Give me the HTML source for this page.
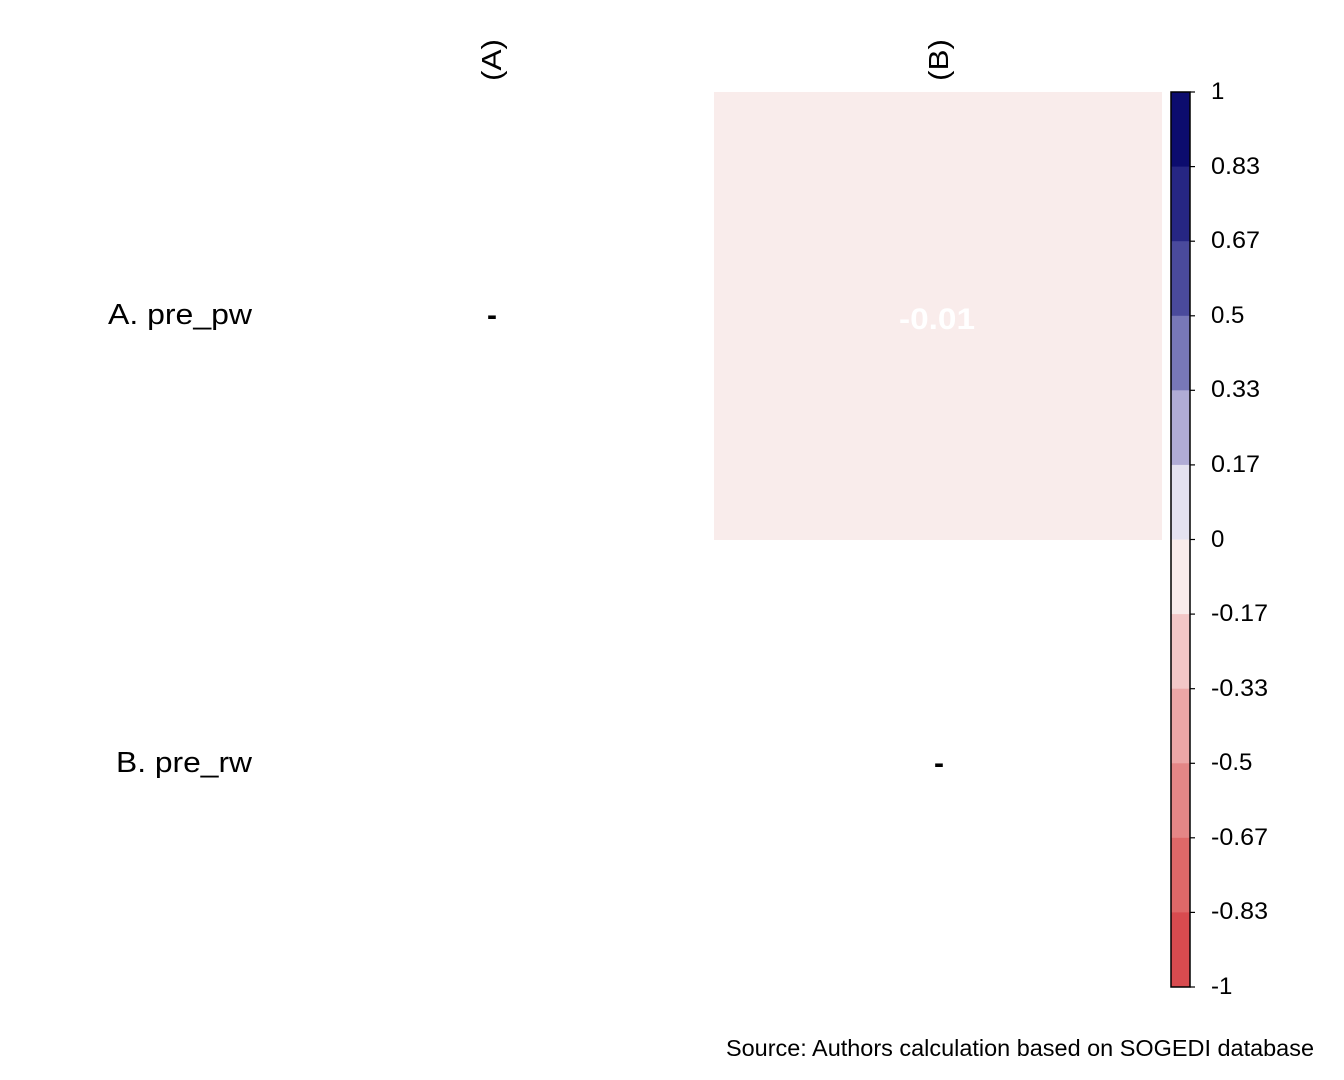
<!DOCTYPE html><html><head><style>body{margin:0;background:#fff}</style></head><body>
<svg width="1344" height="1075" xmlns="http://www.w3.org/2000/svg" font-family="Liberation Sans, Arial, sans-serif">
<rect x="714" y="92" width="448" height="448" fill="#f9eceb"/>
<text x="937" y="329" font-size="30" font-weight="bold" fill="#fff" text-anchor="middle" textLength="76" lengthAdjust="spacingAndGlyphs">-0.01</text>
<text x="492" y="325" font-size="30" font-weight="bold" text-anchor="middle">-</text>
<text x="939" y="773" font-size="30" font-weight="bold" text-anchor="middle">-</text>
<text x="108" y="324" font-size="29" textLength="144" lengthAdjust="spacingAndGlyphs">A. pre_pw</text>
<text x="116" y="772" font-size="29" textLength="136" lengthAdjust="spacingAndGlyphs">B. pre_rw</text>
<text transform="translate(501,60) rotate(-90)" font-size="28" text-anchor="middle" textLength="42" lengthAdjust="spacingAndGlyphs">(A)</text>
<text transform="translate(948,60) rotate(-90)" font-size="28" text-anchor="middle" textLength="42" lengthAdjust="spacingAndGlyphs">(B)</text>
<g>
<rect x="1171" y="92" width="19" height="75" fill="#0c0c6e"/>
<rect x="1171" y="166.6" width="19" height="75" fill="#262683"/>
<rect x="1171" y="241.2" width="19" height="75" fill="#4a4a9c"/>
<rect x="1171" y="315.8" width="19" height="75" fill="#7878b8"/>
<rect x="1171" y="390.3" width="19" height="75" fill="#b0acd6"/>
<rect x="1171" y="464.9" width="19" height="75" fill="#e4e2f0"/>
<rect x="1171" y="539.5" width="19" height="75" fill="#f9eceb"/>
<rect x="1171" y="614.1" width="19" height="75" fill="#f3c7c7"/>
<rect x="1171" y="688.7" width="19" height="75" fill="#eca6a6"/>
<rect x="1171" y="763.3" width="19" height="75" fill="#e48686"/>
<rect x="1171" y="837.8" width="19" height="75" fill="#de6868"/>
<rect x="1171" y="912.4" width="19" height="75" fill="#d84b4f"/>
<rect x="1171" y="92" width="19" height="895" fill="none" stroke="#000" stroke-width="1.5"/>
</g>
<g stroke="#000" stroke-width="1.2">
<line x1="1190" y1="92" x2="1195" y2="92"/><line x1="1190" y1="166.6" x2="1195" y2="166.6"/><line x1="1190" y1="241.2" x2="1195" y2="241.2"/><line x1="1190" y1="315.8" x2="1195" y2="315.8"/><line x1="1190" y1="390.3" x2="1195" y2="390.3"/><line x1="1190" y1="464.9" x2="1195" y2="464.9"/><line x1="1190" y1="539.5" x2="1195" y2="539.5"/><line x1="1190" y1="614.1" x2="1195" y2="614.1"/><line x1="1190" y1="688.7" x2="1195" y2="688.7"/><line x1="1190" y1="763.3" x2="1195" y2="763.3"/><line x1="1190" y1="837.8" x2="1195" y2="837.8"/><line x1="1190" y1="912.4" x2="1195" y2="912.4"/><line x1="1190" y1="987" x2="1195" y2="987"/>
</g>
<g font-size="24">
<text x="1211" y="99">1</text><text x="1211" y="174" textLength="49" lengthAdjust="spacingAndGlyphs">0.83</text><text x="1211" y="248" textLength="49" lengthAdjust="spacingAndGlyphs">0.67</text><text x="1211" y="323">0.5</text><text x="1211" y="397" textLength="49" lengthAdjust="spacingAndGlyphs">0.33</text><text x="1211" y="472" textLength="49" lengthAdjust="spacingAndGlyphs">0.17</text><text x="1211" y="547">0</text><text x="1211" y="621" textLength="57" lengthAdjust="spacingAndGlyphs">-0.17</text><text x="1211" y="696" textLength="57" lengthAdjust="spacingAndGlyphs">-0.33</text><text x="1211" y="770">-0.5</text><text x="1211" y="845" textLength="57" lengthAdjust="spacingAndGlyphs">-0.67</text><text x="1211" y="919" textLength="57" lengthAdjust="spacingAndGlyphs">-0.83</text><text x="1211" y="994">-1</text>
</g>
<text x="726" y="1056" font-size="23" textLength="588" lengthAdjust="spacingAndGlyphs">Source: Authors calculation based on SOGEDI database</text>
</svg></body></html>
